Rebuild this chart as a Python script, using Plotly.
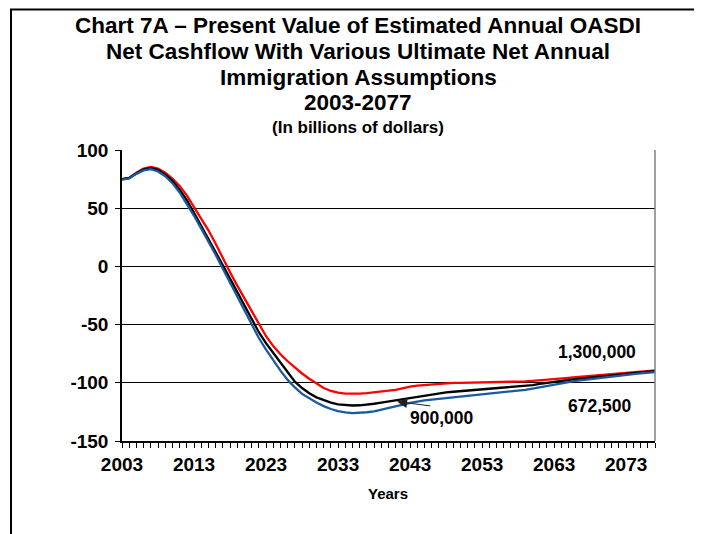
import plotly.graph_objects as go

years = list(range(2003, 2078))

immig_1300000 = [
    75, 76, 80.5, 84, 85.5, 84, 80.5, 75.5, 69, 61,
    51, 41, 31, 19.5, 7, -5, -16.5, -27.5, -38.5, -50,
    -60, -68.5, -75.5, -81.5, -87, -92, -96.5, -100.5, -104.5, -107,
    -108.5, -109.3, -109.5, -109.3, -108.8, -108.3, -107.6, -106.8, -106, -104.5,
    -103.3, -102.5, -102, -101.3, -100.7, -100.2, -100, -100, -99.9, -99.9,
    -99.8, -99.8, -99.7, -99.5, -99.2, -99, -98.8, -98.4, -98, -97.5,
    -97, -96.4, -95.8, -95.2, -94.6, -94, -93.5, -93, -92.5, -92,
    -91.5, -91, -90.4, -89.9, -89.4,
]

immig_900000 = [
    75, 76, 80, 83.3, 84.5, 83, 79, 73.5, 66, 57,
    46, 35, 24, 12.5, 1, -10.5, -22, -33.5, -45.5, -56.5,
    -66, -74.5, -83, -91, -99, -104.5, -109, -112.5, -115, -117,
    -118.5, -119.3, -119.5, -119.3, -118.8, -118, -117, -116, -115, -113.8,
    -112.7, -111.8, -111, -110, -109, -108.3, -107.7, -107.2, -106.7, -106.3,
    -105.9, -105.5, -105, -104.6, -104.1, -103.6, -103, -102, -101, -100,
    -99.2, -98.4, -97.6, -96.8, -96.1, -95.4, -94.7, -94, -93.4, -92.8,
    -92.2, -91.6, -91, -90.5, -90,
]

immig_672500 = [
    74.5, 75.5, 79.5, 82.5, 83.5, 81.5, 77.5, 71.5, 63.5, 54,
    43.5, 32.5, 21.5, 10, -2, -14, -26, -38, -50.5, -61.5,
    -71.5, -81, -89.5, -97.5, -104, -109.5, -113.5, -117, -120, -122.5,
    -124.3, -125.5, -126, -125.8, -125.3, -124.5, -123.2, -121.8, -120.3, -118.8,
    -117.3, -116.1, -115.1, -114.4, -113.8, -113, -112.3, -111.6, -111, -110.3,
    -109.7, -109, -108.5, -107.9, -107.3, -106.7, -106, -105, -104, -103,
    -102, -100.8, -99.5, -98.3, -97.5, -96.7, -96, -95.2, -94.5, -93.8,
    -93.2, -92.5, -91.9, -91.4, -90.8,
]

x_tick_vals = [2003, 2013, 2023, 2033, 2043, 2053, 2063, 2073]
x_tick_text = [str(v) for v in x_tick_vals]
y_tick_vals = [100, 50, 0, -50, -100, -150]
y_tick_text = ["100", "50", "0", "-50", "-100", "-150"]

title_lines = [
    "Chart 7A \u2013 Present Value of Estimated Annual OASDI",
    "Net Cashflow With Various Ultimate Net Annual",
    "Immigration Assumptions",
    "2003-2077",
]
subtitle = "(In billions of dollars)"
x_title = "Years"

FONT = "Liberation Sans, Arial, sans-serif"

fig = go.Figure()
fig.add_trace(go.Scatter(x=years, y=immig_1300000, mode="lines", name="1,300,000",
                         line=dict(color="#ff0000", width=2.3)))
fig.add_trace(go.Scatter(x=years, y=immig_900000, mode="lines", name="900,000",
                         line=dict(color="#000000", width=2.3)))
fig.add_trace(go.Scatter(x=years, y=immig_672500, mode="lines", name="672,500",
                         line=dict(color="#1a5aa0", width=2.3)))

# Plot area in page pixels (the page body adds an 8px offset to the figure)
PAGE_OFF = 8
PL, PR, PT, PB = 122, 655, 150, 441  # plot area edges, page coords
FIG_W, FIG_H = 702 - PAGE_OFF, 534 - PAGE_OFF
L = PL - PAGE_OFF
T = PT - PAGE_OFF
R = FIG_W - (PR - PAGE_OFF)
B = FIG_H - (PB - PAGE_OFF)


def py(pix_y):
    return (PB - pix_y) / (PB - PT)


def px(pix_x):
    return (pix_x - PL) / (PR - PL)


annotations = []
title_y = [26, 51.5, 77, 102.5]
for txt, yy in zip(title_lines, title_y):
    annotations.append(dict(text=txt, xref="paper", yref="paper", x=px(358), y=py(yy),
                            xanchor="center", yanchor="middle", showarrow=False,
                            font=dict(family=FONT, size=22.5, color="black", weight="bold")))
annotations.append(dict(text=subtitle, xref="paper", yref="paper", x=px(358), y=py(127),
                        xanchor="center", yanchor="middle", showarrow=False,
                        font=dict(family=FONT, size=17, color="black", weight="bold")))
annotations.append(dict(text=x_title, xref="paper", yref="paper", x=px(388), y=py(493),
                        xanchor="center", yanchor="middle", showarrow=False,
                        font=dict(family=FONT, size=15, color="black", weight="bold")))

# series labels
annotations.append(dict(text="1,300,000", x=2068.9, y=-73.5, xref="x", yref="y",
                        showarrow=False, xanchor="center", yanchor="middle",
                        font=dict(family=FONT, size=17.5, color="black", weight="bold")))
annotations.append(dict(text="672,500", x=2069.4, y=-120, xref="x", yref="y",
                        showarrow=False, xanchor="center", yanchor="middle",
                        font=dict(family=FONT, size=17.5, color="black", weight="bold")))
annotations.append(dict(text="900,000", x=2047.4, y=-130.2, xref="x", yref="y",
                        showarrow=False, xanchor="center", yanchor="middle",
                        font=dict(family=FONT, size=17.5, color="black", weight="bold")))
annotations.append(dict(text="", x=2041.2, y=-116.2, xref="x", yref="y",
                        ax=2046.0, ay=-120.0, axref="x", ayref="y",
                        showarrow=True, arrowhead=2, arrowsize=2, arrowwidth=1,
                        arrowcolor="#222222"))

shapes = [
    # outer chart frame (extends beyond the window at right/bottom)
    dict(type="rect", xref="paper", yref="paper", x0=px(11), x1=px(706), y0=py(545), y1=py(9.5),
         line=dict(color="black", width=2), layer="below"),
    # right plot border in gray
    dict(type="line", xref="paper", yref="paper", x0=1, x1=1, y0=0, y1=1,
         line=dict(color="#808080", width=1.5)),
]

fig.update_layout(
    width=FIG_W, height=FIG_H,
    margin=dict(l=L, r=R, t=T, b=B),
    paper_bgcolor="white", plot_bgcolor="white",
    showlegend=False,
    annotations=annotations,
    shapes=shapes,
    xaxis=dict(range=[2003, 2077], tickmode="array", tickvals=x_tick_vals, ticktext=x_tick_text,
               ticks="outside", ticklen=5, tickwidth=1, tickcolor="black",
               minor=dict(dtick=1, tick0=2003, ticks="outside", ticklen=5, tickwidth=1,
                          tickcolor="black", showgrid=False),
               showline=True, linecolor="black", linewidth=1.5, showgrid=False, zeroline=False,
               tickfont=dict(family=FONT, size=19, color="black", weight="bold")),
    yaxis=dict(range=[-150, 100], tickmode="array", tickvals=y_tick_vals, ticktext=y_tick_text,
               ticks="outside", ticklen=5, tickwidth=1, tickcolor="black",
               ticklabelstandoff=3,
               showline=True, linecolor="black", linewidth=1.5,
               showgrid=True, gridcolor="black", gridwidth=1, zeroline=False,
               tickfont=dict(family=FONT, size=19, color="black", weight="bold")),
)

fig.write_html("out.html")
